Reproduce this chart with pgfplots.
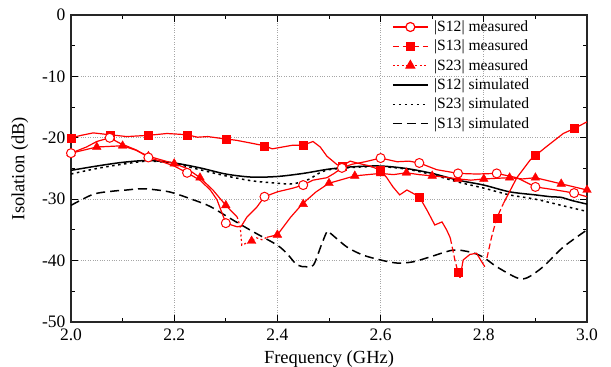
\documentclass[border=0pt]{standalone}
\usepackage{fontspec}
\setmainfont{Liberation Serif}
\usepackage{pgfplots}
\pgfplotsset{compat=1.18}
\newcommand{\tickfnt}{\fontsize{17.5bp}{20bp}\selectfont}
\newcommand{\labfnt}{\fontsize{18.5bp}{22bp}\selectfont}
\newcommand{\legfnt}{\fontsize{15.6bp}{18bp}\selectfont}
\begin{document}
\begin{tikzpicture}
\begin{axis}[
  scale only axis, width=516bp, height=307bp,
  xmin=2, xmax=3, ymin=-50, ymax=0,
  xtick={2,2.2,2.4,2.6,2.8,3}, minor xtick={2.1,2.3,2.5,2.7,2.9},
  ytick={-50,-40,-30,-20,-10,0}, minor ytick={-45,-35,-25,-15,-5},
  x tick label style={/pgf/number format/.cd, fixed, fixed zerofill, precision=1, /tikz/.cd},
  /pgf/number format/assume math mode=true,
  tick label style={font=\tickfnt},
  xticklabel style={yshift=-3bp},
  yticklabel style={xshift=-2bp},
  label style={font=\labfnt},
  xlabel={Frequency (GHz)}, ylabel={Isolation (dB)},
  xlabel style={at={(axis description cs:0.5,-0.136)}, anchor=base},
  ylabel style={at={(axis description cs:-0.099,0.5)}, anchor=center},
  tick style={black, line width=1bp},
  major tick length=7bp, minor tick length=4bp,
  axis line style={line width=1.4bp, black!85},
  grid=major, grid style={dotted, gray!70, line width=0.8bp},
  legend style={at={(0.62,0.993)}, anchor=north west, draw=none, fill=none, font=\legfnt, inner sep=1bp, row sep=2bp, nodes={inner sep=2.5bp},
    /tikz/every odd column/.append style={column sep=3bp}},
  legend cell align=left,
  legend image code/.code={\draw[mark repeat=2,mark phase=2,#1] plot coordinates {(0bp,0bp) (17.5bp,0bp) (35bp,0bp)};},
]
% legend images
\addlegendimage{red, line width=1.2bp, mark=*, mark options={solid, fill=white}, mark size=4.5bp}
\addlegendentry{|S12| measured}
\addlegendimage{red, line width=1.2bp, dash pattern=on 6bp off 4bp, mark=square*, mark options={solid}, mark size=4bp}
\addlegendentry{|S13| measured}
\addlegendimage{red, line width=1.2bp, dash pattern=on 2bp off 2.5bp, mark=triangle*, mark options={solid}, mark size=5bp}
\addlegendentry{|S23| measured}
\addlegendimage{black, line width=1.5bp}
\addlegendentry{|S12| simulated}
\addlegendimage{black, line width=1.5bp, dash pattern=on 2.5bp off 3.5bp}
\addlegendentry{|S23| simulated}
\addlegendimage{black, line width=1.5bp, dash pattern=on 9bp off 5bp}
\addlegendentry{|S13| simulated}

% simulated
\addplot[forget plot, black, line width=1.5bp, smooth, tension=0.5] coordinates {
(2.00,-25.3) (2.05,-24.6) (2.10,-24.0) (2.15,-23.7) (2.20,-24.1) (2.25,-24.9) (2.30,-25.9) (2.35,-26.4) (2.40,-26.3) (2.45,-25.8) (2.50,-25.1) (2.55,-24.7) (2.60,-24.6) (2.65,-25.0) (2.70,-25.8) (2.75,-26.9) (2.80,-27.7) (2.85,-28.8) (2.90,-29.3) (2.93,-29.6) (2.95,-29.7) (2.97,-30.2) (3.00,-30.8)};
\addplot[forget plot, black, line width=1.5bp, dash pattern=on 2.5bp off 3.5bp, smooth, tension=0.5] coordinates {
(2.00,-25.9) (2.05,-25.0) (2.10,-24.3) (2.15,-23.8) (2.20,-24.2) (2.25,-25.2) (2.30,-26.2) (2.35,-27.0) (2.40,-27.4) (2.43,-27.5) (2.46,-26.8) (2.48,-25.8) (2.50,-25.2) (2.55,-24.8) (2.60,-24.7) (2.65,-25.1) (2.70,-26.0) (2.75,-27.2) (2.80,-28.2) (2.85,-29.3) (2.90,-30.0) (2.95,-31.0) (3.00,-32.0)};
\addplot[forget plot, black, line width=1.5bp, dash pattern=on 9bp off 5bp, smooth, tension=0.5] coordinates {
(2.000,-31.0) (2.043,-29.2) (2.080,-28.7) (2.108,-28.5) (2.140,-28.3) (2.190,-28.8) (2.237,-30.1) (2.270,-31.2) (2.314,-33.4) (2.353,-35.3) (2.400,-37.5) (2.420,-39.0) (2.438,-40.7) (2.455,-41.0) (2.470,-40.7) (2.485,-37.5) (2.496,-35.3) (2.502,-35.5) (2.535,-37.8) (2.566,-39.1) (2.600,-39.9) (2.632,-40.4) (2.663,-40.2) (2.696,-39.4) (2.740,-38.3) (2.773,-38.6) (2.798,-39.4) (2.825,-41.0) (2.864,-42.8) (2.884,-42.8) (2.915,-41.0) (2.954,-37.8) (3.000,-35.0)};

% S23 measured
\addplot[forget plot, red, line width=1.2bp] coordinates {
(2.000,-22.5) (2.025,-22.0) (2.050,-21.5) (2.075,-21.4) (2.100,-21.3) (2.125,-22.0) (2.150,-23.0) (2.175,-23.6) (2.200,-24.2) (2.225,-25.0) (2.250,-26.5) (2.275,-28.5) (2.300,-31.0) (2.322,-32.9)};
\addplot[forget plot, red, line width=1.2bp, dash pattern=on 2bp off 2.5bp] coordinates {
(2.322,-32.9) (2.328,-34.5) (2.331,-37.5) (2.349,-36.8) (2.360,-36.3) (2.370,-36.6) (2.380,-36.2)};
\addplot[forget plot, red, line width=1.2bp] coordinates {
(2.380,-36.2) (2.400,-35.8) (2.425,-33.0) (2.448,-30.8) (2.475,-28.8) (2.500,-27.4) (2.525,-26.8) (2.550,-26.2) (2.575,-26.0) (2.600,-25.8) (2.625,-26.0) (2.650,-25.7) (2.675,-26.0) (2.700,-26.2) (2.725,-26.4) (2.750,-26.7) (2.775,-26.9) (2.800,-26.7) (2.825,-26.6) (2.850,-26.5) (2.875,-26.7) (2.900,-26.5) (2.925,-27.0) (2.950,-27.5) (2.975,-28.0) (3.000,-28.5)};
\addplot[forget plot, red, only marks, mark=triangle*, mark size=5bp] coordinates {
(2.00,-22.5) (2.05,-21.5) (2.10,-21.3) (2.15,-23.0) (2.20,-24.2) (2.25,-26.5) (2.30,-31.0) (2.35,-36.8) (2.40,-35.8) (2.45,-30.8) (2.50,-27.4) (2.55,-26.2) (2.60,-25.8) (2.65,-25.7) (2.70,-26.2) (2.75,-26.7) (2.80,-26.7) (2.85,-26.5) (2.90,-26.5) (2.95,-27.5) (3.00,-28.5)};

% S13 measured
\addplot[forget plot, red, line width=1.2bp] coordinates {
(2.000,-20.0) (2.020,-19.6) (2.043,-19.2) (2.075,-19.5) (2.108,-19.8) (2.150,-19.6) (2.186,-19.3) (2.225,-19.5) (2.245,-19.9) (2.265,-19.8) (2.300,-20.2) (2.320,-20.4) (2.345,-20.8) (2.375,-21.3) (2.390,-21.8) (2.410,-21.5) (2.430,-21.2) (2.450,-21.2) (2.469,-20.6) (2.483,-21.5) (2.496,-23.0) (2.516,-24.4) (2.525,-24.6) (2.541,-23.8) (2.554,-24.1) (2.580,-24.6) (2.600,-25.3) (2.612,-26.5) (2.624,-28.0) (2.637,-29.3) (2.651,-28.5) (2.675,-29.6) (2.690,-31.8) (2.705,-34.2) (2.719,-33.7) (2.728,-35.0) (2.735,-36.3)};
\addplot[forget plot, red, line width=1.2bp, dash pattern=on 6bp off 3bp] coordinates {
(2.735,-36.3) (2.744,-39.9) (2.750,-41.9) (2.754,-42.8)};
\addplot[forget plot, red, line width=1.2bp] coordinates {
(2.754,-42.8) (2.760,-39.9) (2.773,-39.0) (2.786,-38.8) (2.796,-40.2) (2.802,-41.0)};
\addplot[forget plot, red, line width=1.2bp, dash pattern=on 6bp off 3bp] coordinates {
(2.806,-39.6) (2.815,-36.2) (2.825,-33.1) (2.838,-30.7)};
\addplot[forget plot, red, line width=1.2bp] coordinates {
(2.838,-30.7) (2.864,-26.5) (2.890,-23.6) (2.900,-22.9) (2.922,-21.4) (2.954,-19.3) (2.975,-18.5) (3.000,-17.4)};
\addplot[forget plot, red, only marks, mark=square*, mark size=4bp] coordinates {
(2.000,-20.0) (2.075,-19.5) (2.150,-19.6) (2.225,-19.5) (2.300,-20.2) (2.375,-21.3) (2.450,-21.2) (2.525,-24.6) (2.600,-25.3) (2.675,-29.6) (2.750,-41.9) (2.825,-33.1) (2.900,-22.9) (2.975,-18.5)};

% S12 measured
\addplot[forget plot, red, line width=1.2bp] coordinates {
(2.000,-22.5) (2.030,-21.5) (2.050,-20.6) (2.075,-20.0) (2.095,-20.9) (2.127,-22.0) (2.150,-23.2) (2.180,-24.0) (2.200,-24.6) (2.225,-25.7) (2.250,-26.9) (2.270,-28.5) (2.283,-30.1) (2.300,-33.9) (2.322,-34.5) (2.330,-34.4) (2.341,-32.9) (2.360,-31.3) (2.375,-29.6) (2.400,-28.8) (2.430,-28.2) (2.450,-27.7) (2.469,-26.9) (2.496,-26.5) (2.510,-25.8) (2.525,-24.9) (2.545,-24.3) (2.570,-23.9) (2.600,-23.3) (2.632,-23.9) (2.655,-23.8) (2.675,-24.1) (2.709,-25.2) (2.730,-25.5) (2.750,-25.8) (2.786,-25.9) (2.825,-25.8) (2.864,-26.5) (2.900,-28.0) (2.940,-28.5) (2.975,-29.0) (3.000,-29.6)};
\addplot[forget plot, red, only marks, mark=*, mark options={fill=white}, mark size=4.5bp, line width=1bp] coordinates {
(2.000,-22.5) (2.075,-20.0) (2.150,-23.2) (2.225,-25.7) (2.300,-33.9) (2.375,-29.6) (2.450,-27.7) (2.525,-24.9) (2.600,-23.3) (2.675,-24.1) (2.750,-25.8) (2.825,-25.8) (2.900,-28.0) (2.975,-29.0)};
\end{axis}
\pgfresetboundingbox
\path (current axis.south west) ++(-71bp,-45bp) coordinate (bbA);
\path (current axis.north east) ++(24bp,15bp) coordinate (bbB);
\path[use as bounding box] (bbA) rectangle (bbB);
\end{tikzpicture}
\end{document}
